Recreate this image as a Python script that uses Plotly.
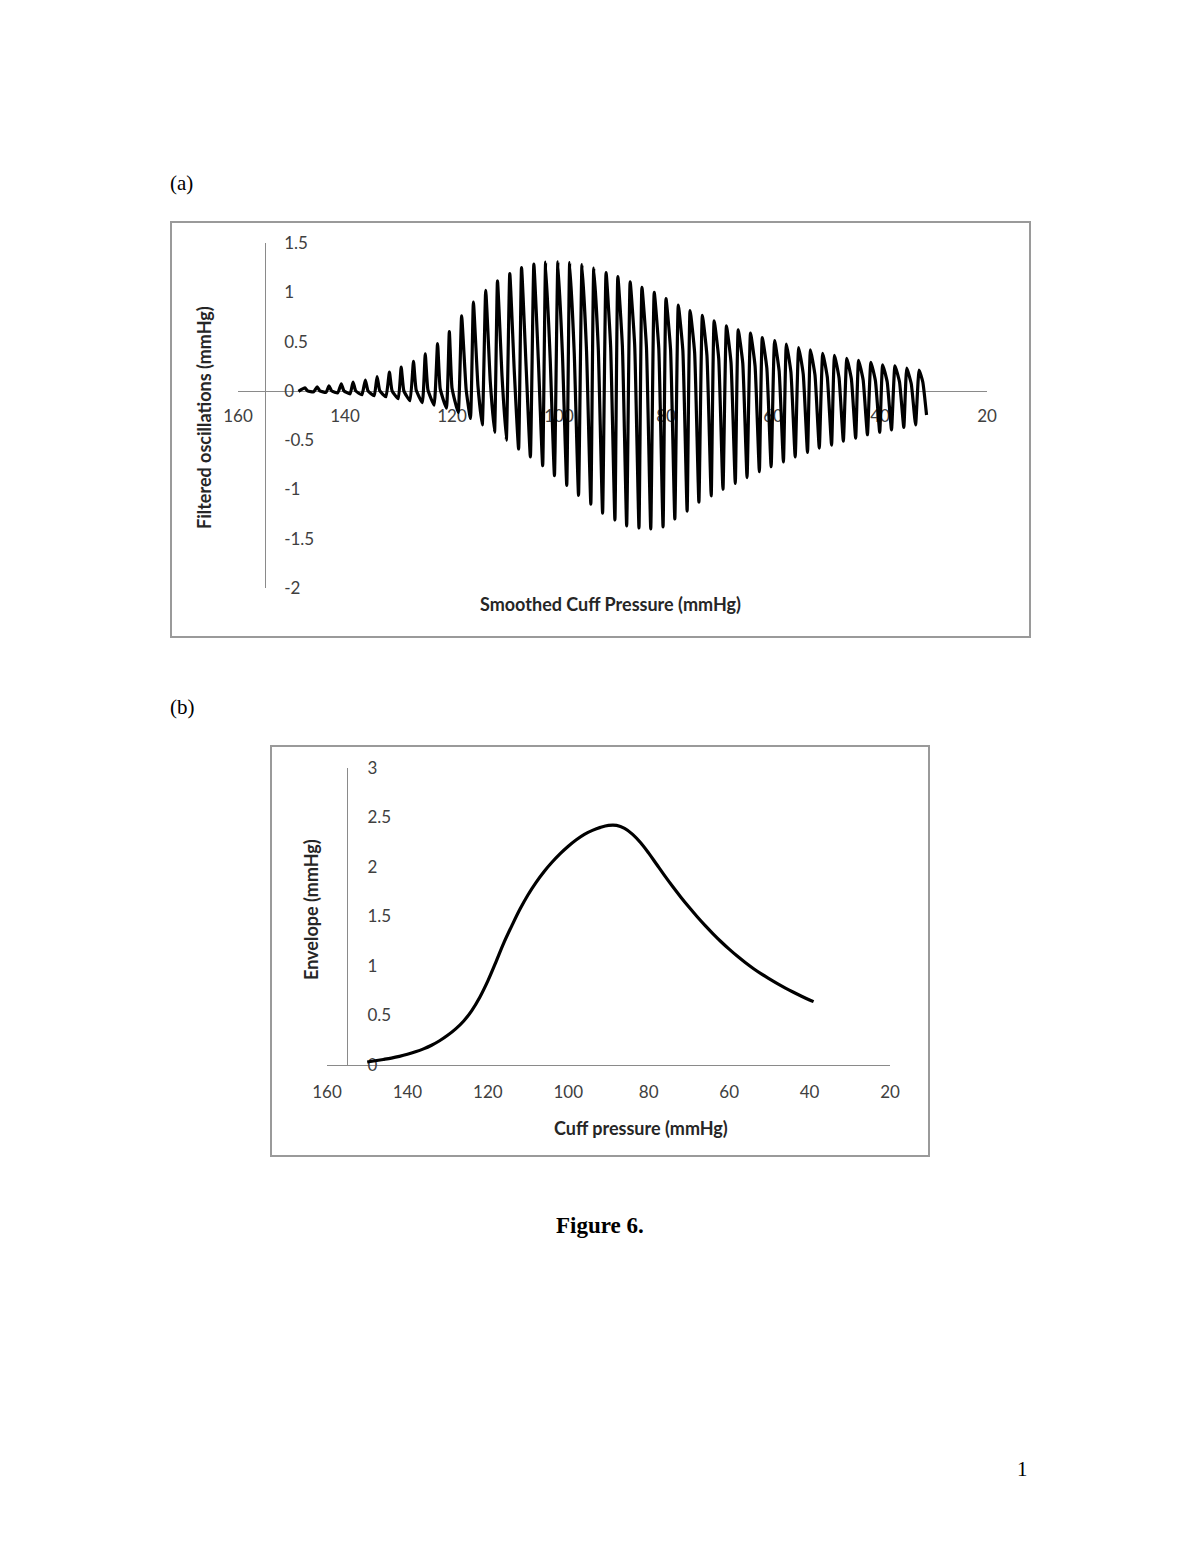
import plotly.graph_objects as go

# ---------------- Panel (a): filtered oscillations ----------------
peak_pressure = [147.5, 145.2, 143.0, 140.7, 138.5, 136.2, 134.0, 131.7, 129.5, 127.2,
                 125.0, 122.7, 120.5, 118.2, 116.0, 113.7, 111.5, 109.2, 107.0, 104.7,
                 102.5, 100.2, 98.0, 95.7, 93.5, 91.2, 89.0, 86.7, 84.5, 82.2,
                 80.0, 77.7, 75.5, 73.2, 71.0, 68.7, 66.5, 64.2, 62.0, 59.7,
                 57.5, 55.2, 53.0, 50.7, 48.5, 46.2, 44.0, 41.7, 39.5, 37.2,
                 35.0, 32.7]
peak_value = [0.03, 0.04, 0.05, 0.07, 0.09, 0.11, 0.145, 0.19, 0.24, 0.30,
              0.375, 0.48, 0.60, 0.76, 0.90, 1.02, 1.115, 1.19, 1.25, 1.285,
              1.305, 1.31, 1.30, 1.28, 1.245, 1.20, 1.16, 1.105, 1.05, 1.00,
              0.935, 0.87, 0.815, 0.765, 0.71, 0.66, 0.62, 0.585, 0.54, 0.51,
              0.475, 0.44, 0.415, 0.38, 0.36, 0.33, 0.31, 0.29, 0.265, 0.255,
              0.23, 0.21]
shoulder_pressure = [147.0, 144.7, 142.5, 140.2, 138.0, 135.7, 133.5, 131.2, 129.0, 126.7,
                     124.5, 122.2, 120.0, 117.35, 115.15, 112.85, 110.65, 108.35, 106.15, 103.85,
                     101.65, 99.35, 97.15, 94.85, 92.65, 90.35, 88.15, 85.85, 83.65, 81.35,
                     79.15, 76.85, 74.65, 72.35, 70.15, 67.85, 65.65, 63.35, 61.15, 58.85,
                     56.65, 54.35, 52.15, 49.85, 47.65, 45.35, 43.15, 40.85, 38.65, 36.35,
                     34.15, 32.0]
shoulder_value = [0.0, 0.0, 0.0, 0.0, 0.0, 0.0, 0.0, 0.0, 0.0, 0.01,
                  0.01, 0.02, 0.03, 0.01, 0.05, 0.10, 0.15, 0.19, 0.25, 0.30,
                  0.33, 0.36, 0.38, 0.40, 0.42, 0.45, 0.45, 0.46, 0.44, 0.43,
                  0.42, 0.41, 0.39, 0.36, 0.33, 0.29, 0.28, 0.25, 0.23, 0.20,
                  0.19, 0.17, 0.16, 0.14, 0.13, 0.12, 0.11, 0.10, 0.09, 0.09,
                  0.07, 0.09]
trough_pressure = [145.85, 143.55, 141.35, 139.05, 136.85, 134.55, 132.35, 130.05, 127.85, 125.55,
                   123.35, 121.05, 118.85, 116.55, 114.35, 112.05, 109.85, 107.55, 105.35, 103.05,
                   100.85, 98.55, 96.35, 94.05, 91.85, 89.55, 87.35, 85.05, 82.85, 80.55,
                   78.35, 76.05, 73.85, 71.55, 69.35, 67.05, 64.85, 62.55, 60.35, 58.05,
                   55.85, 53.55, 51.35, 49.05, 46.85, 44.55, 42.35, 40.05, 37.85, 35.55,
                   33.35]
trough_value = [-0.01, -0.015, -0.02, -0.03, -0.04, -0.05, -0.06, -0.08, -0.10, -0.12,
                -0.145, -0.175, -0.22, -0.28, -0.345, -0.42, -0.50, -0.59, -0.67, -0.76,
                -0.86, -0.96, -1.06, -1.15, -1.24, -1.31, -1.37, -1.39, -1.40, -1.38,
                -1.30, -1.22, -1.13, -1.065, -1.00, -0.94, -0.88, -0.82, -0.77, -0.72,
                -0.67, -0.625, -0.58, -0.55, -0.51, -0.48, -0.445, -0.42, -0.395, -0.37,
                -0.345]
start_pressure, start_value = 148.7, -0.005
end_pressure, end_value = 31.3, -0.245

a_x_ticks = [160, 140, 120, 100, 80, 60, 40, 20]
a_x_ticktext = ["160", "140", "120", "100", "80", "60", "40", "20"]
a_y_ticks = [1.5, 1, 0.5, 0, -0.5, -1, -1.5, -2]
a_y_ticktext = ["1.5", "1", "0.5", "0", "-0.5", "-1", "-1.5", "-2"]

# ---------------- Panel (b): envelope ----------------
env_pressure = [150, 148, 146, 144, 142, 140, 138, 136, 134, 132, 130, 128, 126, 124, 122,
                120, 118, 116, 114, 112, 110, 108, 106, 104, 102, 100, 98, 96, 94, 92,
                90, 88, 86, 84, 82, 80, 78, 76, 74, 72, 70, 68, 66, 64, 62,
                60, 58, 56, 54, 52, 50, 48, 46, 44, 42, 40, 39]
env_value = [0.03, 0.043, 0.056, 0.07, 0.087, 0.108, 0.133, 0.163, 0.20, 0.245, 0.30, 0.365, 0.445, 0.55, 0.685,
             0.85, 1.04, 1.236, 1.41, 1.575, 1.72, 1.845, 1.955, 2.05, 2.135, 2.21, 2.275, 2.33, 2.37, 2.40,
             2.42, 2.42, 2.39, 2.33, 2.245, 2.14, 2.025, 1.91, 1.80, 1.695, 1.595, 1.50, 1.41, 1.325, 1.245,
             1.17, 1.10, 1.035, 0.975, 0.92, 0.87, 0.822, 0.777, 0.735, 0.695, 0.657, 0.64]

b_x_ticks = [160, 140, 120, 100, 80, 60, 40, 20]
b_x_ticktext = ["160", "140", "120", "100", "80", "60", "40", "20"]
b_y_ticks = [0, 0.5, 1, 1.5, 2, 2.5, 3]
b_y_ticktext = ["0", "0.5", "1", "1.5", "2", "2.5", "3"]

# ---------------- assemble waveform (interleave read points) ----------------
wx = [start_pressure]
wy = [start_value]
for i in range(len(peak_pressure)):
    wx += [peak_pressure[i], shoulder_pressure[i]]
    wy += [peak_value[i], shoulder_value[i]]
    if i < len(trough_pressure):
        wx.append(trough_pressure[i])
        wy.append(trough_value[i])
wx.append(end_pressure)
wy.append(end_value)

W, H = 1200, 1553
OFF = 8  # page body margin
def px(x):
    return (x - OFF) / W
def py(y):
    return 1 - (y - OFF) / H

FONT = "Lato, 'Open Sans', sans-serif"
TICK_COL = "#404040"
TITLE_COL = "#262626"
AXIS_COL = "#8a8a8a"

fig = go.Figure()
fig.add_trace(go.Scatter(x=wx, y=wy, mode="lines", xaxis="x", yaxis="y",
                         line=dict(color="black", width=3.2, shape="spline", smoothing=0.4),
                         showlegend=False, hoverinfo="skip"))
fig.add_trace(go.Scatter(x=env_pressure, y=env_value, mode="lines", xaxis="x2", yaxis="y2",
                         line=dict(color="black", width=3.2, shape="spline", smoothing=1.0),
                         showlegend=False, hoverinfo="skip"))

a_x0, a_x1, a_y0, a_y1 = 238, 987, 243, 588
b_x0, b_x1, b_y0, b_y1 = 327, 890, 768, 1065

def yaxis_pos_x(x0, x1, rng0, rng1, val):
    frac = (val - rng0) / (rng1 - rng0)
    return px(x0 + frac * (x1 - x0))

def xaxis_pos_y(y0, y1, rng0, rng1, val):
    frac = (val - rng0) / (rng1 - rng0)
    return py(y1 - frac * (y1 - y0))

common = dict(ticks="", showgrid=False, zeroline=False, showline=True,
              linecolor=AXIS_COL, linewidth=1, automargin=False,
              layer="below traces", tickfont=dict(size=17, color=TICK_COL))

fig.update_layout(
    template="none",
    width=W, height=H,
    margin=dict(l=0, r=0, t=0, b=0, pad=0, autoexpand=False),
    paper_bgcolor="white", plot_bgcolor="rgba(0,0,0,0)",
    font=dict(family=FONT, color=TICK_COL, size=17),
    showlegend=False,
    xaxis=dict(domain=[px(a_x0), px(a_x1)], range=[160, 20], anchor="free",
               position=xaxis_pos_y(a_y0, a_y1, -2, 1.5, 0),
               tickvals=a_x_ticks, ticktext=a_x_ticktext, ticklabelstandoff=10, **common),
    yaxis=dict(domain=[py(a_y1), py(a_y0)], range=[-2, 1.5], anchor="free",
               position=yaxis_pos_x(a_x0, a_x1, 160, 20, 155), side="right",
               tickvals=a_y_ticks, ticktext=a_y_ticktext, ticklabelstandoff=15, **common),
    xaxis2=dict(domain=[px(b_x0), px(b_x1)], range=[160, 20], anchor="y2",
                tickvals=b_x_ticks, ticktext=b_x_ticktext, ticklabelstandoff=12, **common),
    yaxis2=dict(domain=[py(b_y1), py(b_y0)], range=[0, 3], anchor="free",
                position=yaxis_pos_x(b_x0, b_x1, 160, 20, 155), side="right",
                tickvals=b_y_ticks, ticktext=b_y_ticktext, ticklabelstandoff=16, **common),
)

# chart frames
fig.add_shape(type="rect", xref="paper", yref="paper",
              x0=px(171), x1=px(1030), y0=py(637), y1=py(222),
              line=dict(color="#9a9a9a", width=2), fillcolor="rgba(0,0,0,0)")
fig.add_shape(type="rect", xref="paper", yref="paper",
              x0=px(271), x1=px(929), y0=py(1156), y1=py(746),
              line=dict(color="#9a9a9a", width=2), fillcolor="rgba(0,0,0,0)")

def ann(text, x, y, size, family=FONT, bold=False, angle=0, color=TITLE_COL, xanchor="center"):
    fig.add_annotation(text=("<b>%s</b>" % text) if bold else text,
                       x=px(x), y=py(y), xref="paper", yref="paper",
                       showarrow=False, textangle=angle, xanchor=xanchor, yanchor="middle",
                       font=dict(family=family, size=size, color=color))

SERIF = "'Liberation Serif', 'Times New Roman', serif"
ann("(a)", 168, 183, 21, family=SERIF, color="black", xanchor="left")
ann("(b)", 168, 707, 21, family=SERIF, color="black", xanchor="left")
ann("Filtered oscillations (mmHg)", 204, 418, 18, bold=True, angle=-90)
ann("Smoothed Cuff Pressure (mmHg)", 611, 604, 18, bold=True)
ann("Envelope (mmHg)", 311, 910, 18, bold=True, angle=-90)
ann("Cuff pressure (mmHg)", 641, 1128, 18, bold=True)
ann("Figure 6.", 600, 1225, 23, family=SERIF, bold=True, color="black")
ann("1", 1022, 1469, 21, family=SERIF, color="black")

fig.write_html("out.html")
